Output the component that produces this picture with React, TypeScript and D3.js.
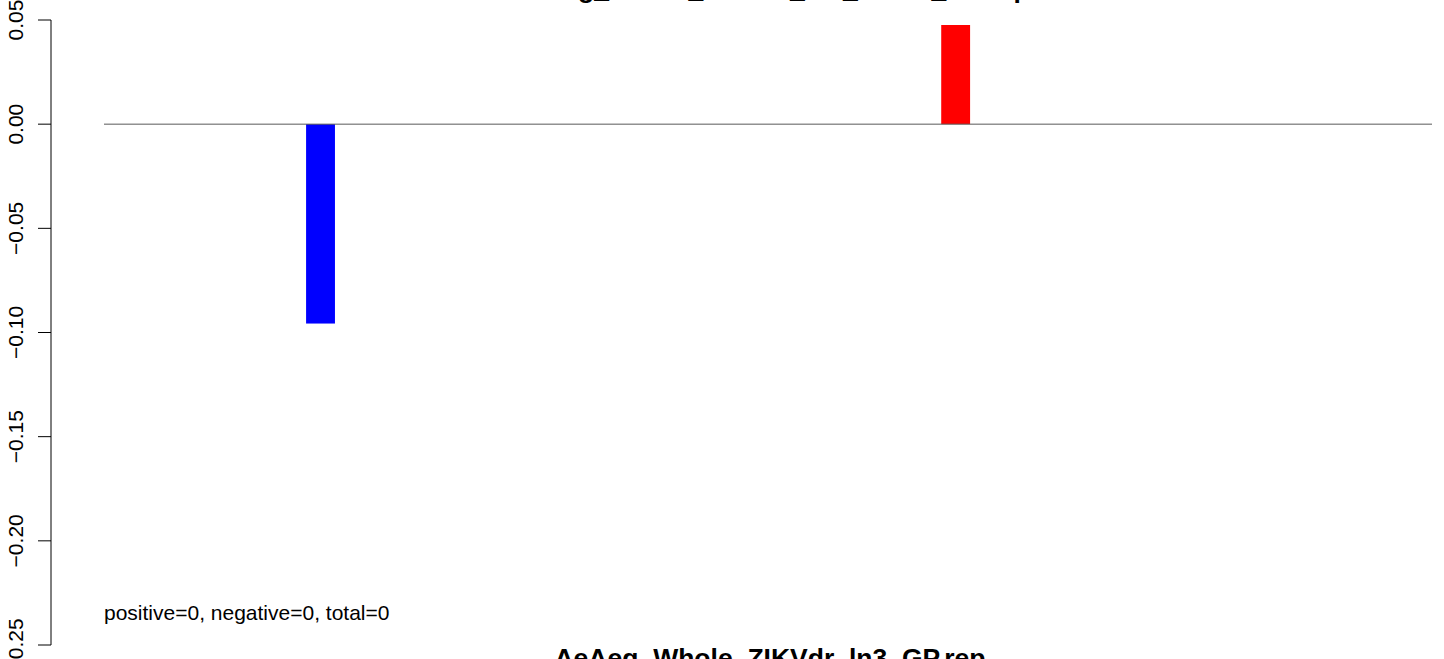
import React, { useRef, useEffect } from 'react';
import * as d3 from 'd3';

// one slot per sample, most of them are flat
const categories = [
    "s01", "s02", "s03", "s04", "s05", "s06", "s07", "s08", "s09", "s10", "s11", "s12",
    "s13", "s14", "s15", "s16", "s17", "s18", "s19", "s20", "s21", "s22", "s23"
];
const values = [
    0, 0, 0, -0.0957, 0, 0, 0, 0, 0, 0, 0, 0,
    0, 0, 0.0476, 0, 0, 0, 0, 0, 0, 0, 0
];
const yTicks = [0.05, 0.0, -0.05, -0.1, -0.15, -0.2, -0.25];
const titleText = "AeAeg_Whole_ZIKVdr_ln3_DENV_GP.rep";
const xLabel = "AeAeg_Whole_ZIKVdr_ln3_GP.rep";
const countsText = "positive=0, negative=0, total=0";

const FONT = "'Liberation Sans', Arial, Helvetica, sans-serif";

const App = () => {
    const svgRef = useRef(null);

    useEffect(() => {
        if (!svgRef.current) return;
        const svg = d3.select(svgRef.current);
        svg.selectAll("*").remove();
        const width = 1444;
        const height = 659;

        svg.attr("width", width).attr("height", height)
            .attr("viewBox", [0, 0, width, height])
            .style("font-family", FONT);

        const x = d3.scaleBand()
            .domain(categories)
            .range([104, 1432])
            .paddingInner(0.5)
            .paddingOuter(0.25)
            .align(1);

        const y = d3.scaleLinear()
            .domain([-0.25, 0.05])
            .range([645, 20]);

        // bars
        svg.append("g")
            .selectAll("rect")
            .data(values.map((v, i) => ({ key: categories[i], v })))
            .join("rect")
            .attr("x", d => x(d.key))
            .attr("width", x.bandwidth())
            .attr("y", d => y(Math.max(0, d.v)))
            .attr("height", d => Math.abs(y(d.v) - y(0)))
            .attr("fill", d => d.v < 0 ? "#0000ff" : "#ff0000");

        // zero line
        svg.append("line")
            .attr("x1", x.range()[0])
            .attr("x2", x.range()[1])
            .attr("y1", y(0))
            .attr("y2", y(0))
            .attr("stroke", "#595959")
            .attr("stroke-width", 1);

        // y axis
        const axisX = 51;
        const ay = svg.append("g").attr("transform", `translate(${axisX},0)`);
        ay.append("line")
            .attr("y1", y(yTicks[0])).attr("y2", y(yTicks[yTicks.length - 1]))
            .attr("stroke", "#000");
        ay.selectAll(".tick")
            .data(yTicks)
            .join("line")
            .attr("x1", -13).attr("x2", 0)
            .attr("y1", d => y(d)).attr("y2", d => y(d))
            .attr("stroke", "#000");
        ay.selectAll("text")
            .data(yTicks)
            .join("text")
            .attr("transform", d => `translate(-28,${y(d)}) rotate(-90)`)
            .attr("text-anchor", "middle")
            .attr("font-size", 21)
            .attr("fill", "#000")
            .text(d => d3.format(".2f")(d));

        // title, pushed mostly above the page like the original
        svg.append("text")
            .attr("x", 770)
            .attr("y", -2.5)
            .attr("text-anchor", "middle")
            .attr("font-size", 26.5)
            .attr("font-weight", "bold")
            .text(titleText);

        svg.append("text")
            .attr("x", 770)
            .attr("y", 667)
            .attr("text-anchor", "middle")
            .attr("font-size", 26.5)
            .attr("font-weight", "bold")
            .text(xLabel);

        svg.append("text")
            .attr("x", x.range()[0])
            .attr("y", 620)
            .attr("font-size", 21)
            .text(countsText);
    }, []);

    return (
        <svg ref={svgRef} style={{ position: "absolute", left: 0, top: 0, display: "block", background: "#fff" }}></svg>
    );
};

export default App;
